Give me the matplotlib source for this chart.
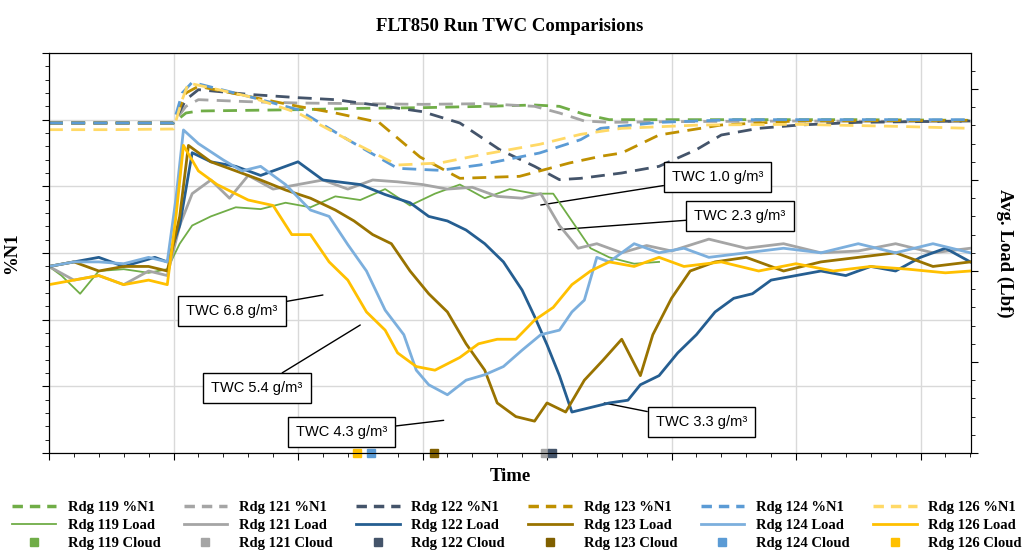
import matplotlib
matplotlib.use("Agg")
import matplotlib.pyplot as plt
from matplotlib.ticker import MultipleLocator, NullFormatter
from matplotlib.lines import Line2D

# ---- %N1 (dashed), left axis units ----
n1_119_t = [0, 0.5, 1.0, 1.1, 1.2, 1.6, 2.0, 2.5, 3.0, 3.5, 3.9, 4.1, 4.3, 4.5, 4.8, 5.5, 6.5, 7.4]
n1_119_v = [4.95, 4.95, 4.95, 5.1, 5.13, 5.14, 5.15, 5.17, 5.18, 5.2, 5.22, 5.2, 5.08, 5.0, 5.0, 5.0, 5.0, 4.99]
n1_121_t = [0, 0.5, 1.0, 1.1, 1.2, 1.6, 2.0, 2.5, 3.0, 3.5, 3.9, 4.1, 4.3, 4.5, 5.0, 6.0, 7.4]
n1_121_v = [4.95, 4.95, 4.95, 5.2, 5.3, 5.27, 5.25, 5.24, 5.23, 5.24, 5.2, 5.1, 4.98, 4.96, 4.97, 4.98, 4.97]
n1_122_t = [0, 0.5, 1.0, 1.1, 1.2, 1.6, 2.0, 2.3, 2.7, 3.0, 3.3, 3.62, 3.9, 4.1, 4.27, 4.6, 4.9, 5.2, 5.4, 5.7, 6.03, 6.5, 7.4]
n1_122_v = [4.95, 4.95, 4.95, 5.3, 5.45, 5.38, 5.33, 5.3, 5.2, 5.12, 4.95, 4.55, 4.3, 4.1, 4.12, 4.2, 4.3, 4.55, 4.77, 4.87, 4.92, 4.96, 4.98]
n1_123_t = [0, 0.5, 1.0, 1.1, 1.2, 1.6, 2.0, 2.3, 2.65, 2.98, 3.3, 3.78, 4.18, 4.43, 4.6, 4.9, 5.4, 6.0, 7.4]
n1_123_v = [4.95, 4.95, 4.95, 5.4, 5.5, 5.35, 5.2, 5.1, 4.96, 4.44, 4.12, 4.15, 4.35, 4.45, 4.5, 4.77, 4.92, 4.98, 4.99]
n1_124_t = [0, 0.5, 1.0, 1.07, 1.15, 1.6, 2.0, 2.4, 2.8, 3.14, 3.46, 3.94, 4.27, 4.43, 4.9, 5.5, 6.5, 7.4]
n1_124_v = [4.95, 4.95, 4.95, 5.4, 5.56, 5.35, 5.15, 4.7, 4.27, 4.24, 4.32, 4.5, 4.7, 4.87, 4.96, 5.0, 5.0, 5.0]
n1_126_t = [0, 0.5, 1.0, 1.07, 1.12, 1.6, 2.0, 2.4, 2.8, 3.14, 3.46, 3.94, 4.27, 4.6, 5.23, 6.0, 6.8, 7.4]
n1_126_v = [4.85, 4.85, 4.86, 5.3, 5.55, 5.35, 5.1, 4.7, 4.32, 4.35, 4.47, 4.63, 4.78, 4.87, 4.92, 4.93, 4.9, 4.87]

# ---- Load (solid), right axis units ----
ld_119_t = [0, 0.1, 0.25, 0.4, 0.6, 0.8, 0.95, 1.05, 1.15, 1.3, 1.5, 1.7, 1.9, 2.1, 2.3, 2.5, 2.7, 2.9, 3.1, 3.3, 3.5, 3.7, 3.9, 4.05, 4.2, 4.35, 4.5, 4.7, 4.9]
ld_119_v = [2.05, 1.95, 1.75, 2.0, 2.02, 1.98, 2.02, 2.3, 2.5, 2.6, 2.7, 2.68, 2.75, 2.7, 2.82, 2.78, 2.9, 2.72, 2.85, 2.95, 2.8, 2.9, 2.85, 2.85, 2.55, 2.25, 2.15, 2.08, 2.1]
ld_121_t = [0, 0.2, 0.4, 0.6, 0.8, 0.95, 1.05, 1.15, 1.3, 1.45, 1.6, 1.8, 2.0, 2.2, 2.4, 2.6, 2.8, 3.0, 3.2, 3.4, 3.6, 3.8, 3.95, 4.1, 4.25, 4.4, 4.6, 4.8, 5.0, 5.3, 5.6, 5.9, 6.2, 6.5, 6.8, 7.1, 7.4]
ld_121_v = [2.05, 1.9, 1.95, 1.85, 2.0, 1.95, 2.5, 2.85, 3.0, 2.8, 3.05, 2.9, 2.95, 3.0, 2.9, 3.0, 2.98, 2.95, 2.9, 2.92, 2.82, 2.8, 2.85, 2.5, 2.25, 2.3, 2.2, 2.28, 2.22, 2.35, 2.25, 2.3, 2.2, 2.22, 2.3, 2.2, 2.25]
ld_122_t = [0, 0.2, 0.4, 0.6, 0.85, 0.95, 1.05, 1.15, 1.3, 1.5, 1.7, 2.0, 2.2, 2.5, 2.7, 2.9, 3.05, 3.2, 3.35, 3.5, 3.65, 3.8, 3.9, 4.0, 4.1, 4.2, 4.35, 4.5, 4.65, 4.75, 4.9, 5.05, 5.2, 5.35, 5.5, 5.65, 5.8, 6.0, 6.2, 6.4, 6.6, 6.8, 7.0, 7.2, 7.4]
ld_122_v = [2.05, 2.1, 2.15, 2.05, 2.15, 2.1, 2.5, 3.3, 3.2, 3.15, 3.05, 3.2, 3.0, 2.95, 2.84, 2.75, 2.6, 2.55, 2.45, 2.3, 2.1, 1.79, 1.5, 1.19, 0.85, 0.45, 0.5, 0.55, 0.58, 0.75, 0.85, 1.1, 1.3, 1.55, 1.7, 1.75, 1.9, 1.95, 2.0, 1.95, 2.05, 2.0, 2.15, 2.25, 2.1]
ld_123_t = [0, 0.2, 0.4, 0.6, 0.8, 0.95, 1.05, 1.12, 1.3, 1.5, 1.7, 1.9, 2.1, 2.3, 2.45, 2.6, 2.75, 2.9, 3.05, 3.2, 3.35, 3.5, 3.6, 3.75, 3.9, 4.0, 4.15, 4.3, 4.45, 4.6, 4.75, 4.85, 5.0, 5.15, 5.35, 5.6, 5.9, 6.2, 6.5, 6.8, 7.1, 7.4]
ld_123_v = [2.05, 2.1, 2.0, 2.05, 2.05, 2.0, 2.6, 3.38, 3.2, 3.1, 3.0, 2.89, 2.8, 2.67, 2.55, 2.4, 2.3, 2.0, 1.75, 1.55, 1.2, 0.91, 0.55, 0.4, 0.35, 0.55, 0.45, 0.8, 1.02, 1.25, 0.85, 1.3, 1.7, 2.0, 2.1, 2.15, 2.0, 2.1, 2.15, 2.2, 2.05, 2.1]
ld_124_t = [0, 0.2, 0.4, 0.6, 0.8, 0.95, 1.02, 1.08, 1.2, 1.4, 1.55, 1.7, 1.9, 2.1, 2.25, 2.4, 2.55, 2.7, 2.85, 2.95, 3.05, 3.2, 3.35, 3.5, 3.65, 3.8, 3.95, 4.1, 4.2, 4.3, 4.4, 4.5, 4.7, 4.9, 5.1, 5.3, 5.6, 5.9, 6.2, 6.5, 6.8, 7.1, 7.4]
ld_124_v = [2.05, 2.1, 2.1, 2.08, 2.15, 2.1, 2.8, 3.55, 3.4, 3.22, 3.1, 3.15, 2.95, 2.67, 2.6, 2.29, 2.0, 1.57, 1.3, 0.91, 0.75, 0.64, 0.8, 0.86, 0.95, 1.13, 1.3, 1.35, 1.55, 1.68, 2.15, 2.1, 2.3, 2.2, 2.25, 2.15, 2.2, 2.25, 2.2, 2.3, 2.2, 2.3, 2.2]
ld_126_t = [0, 0.2, 0.4, 0.6, 0.8, 0.95, 1.02, 1.08, 1.2, 1.35, 1.6, 1.8, 1.95, 2.1, 2.25, 2.4, 2.55, 2.7, 2.8, 2.95, 3.1, 3.3, 3.45, 3.6, 3.75, 3.9, 4.05, 4.2, 4.35, 4.5, 4.7, 4.9, 5.1, 5.4, 5.7, 6.0, 6.3, 6.6, 6.9, 7.2, 7.4]
ld_126_v = [1.85, 1.9, 1.95, 1.85, 1.9, 1.85, 2.6, 3.38, 3.1, 2.95, 2.78, 2.72, 2.4, 2.4, 2.1, 1.9, 1.55, 1.35, 1.1, 0.95, 0.91, 1.05, 1.2, 1.25, 1.25, 1.46, 1.6, 1.85, 2.0, 2.1, 2.05, 2.15, 2.05, 2.1, 2.0, 2.08, 2.0, 2.05, 2.02, 1.98, 2.0]

# ---- cloud start times ----
cloud_t = {"119": None, "121": 3.98, "122": 4.04, "123": 3.09, "124": 2.59, "126": 2.47}

runs = ["119", "121", "122", "123", "124", "126"]
n1_data = {"119": (n1_119_t, n1_119_v), "121": (n1_121_t, n1_121_v), "122": (n1_122_t, n1_122_v),
           "123": (n1_123_t, n1_123_v), "124": (n1_124_t, n1_124_v), "126": (n1_126_t, n1_126_v)}
ld_data = {"119": (ld_119_t, ld_119_v), "121": (ld_121_t, ld_121_v), "122": (ld_122_t, ld_122_v),
           "123": (ld_123_t, ld_123_v), "124": (ld_124_t, ld_124_v), "126": (ld_126_t, ld_126_v)}
n1_col = {"119": "#70AD47", "121": "#A5A5A5", "122": "#44546A", "123": "#BF9000", "124": "#5B9BD5", "126": "#FFD966"}
ld_col = {"119": "#70AD47", "121": "#A5A5A5", "122": "#255E91", "123": "#997300", "124": "#7CAFDD", "126": "#FFC000"}
ld_lw = {"119": 1.3, "121": 2, "122": 2, "123": 2, "124": 2, "126": 2}
cl_col = {"119": "#70AD47", "121": "#A5A5A5", "122": "#44546A", "123": "#806000", "124": "#5B9BD5", "126": "#FFC000"}
dash = (0, (5, 3))

fig = plt.figure(figsize=(10.34, 5.58), dpi=100)
ax = fig.add_axes([49 / 1034, 105 / 558, 922 / 1034, 400 / 558])
ax2 = ax.twinx()

for r in runs:
    t, v = n1_data[r]
    ax.plot(t, v, ls=dash, lw=2, color=n1_col[r])
for r in runs:
    t, v = ld_data[r]
    ax2.plot(t, v, lw=ld_lw[r], color=ld_col[r])
for r in runs:
    if cloud_t[r] is not None:
        ax.plot([cloud_t[r]], [0], "s", ms=6, color=cl_col[r], clip_on=False, zorder=5)

ax.set_xlim(0, 922 / 124.5)
ax.set_ylim(0, 6)
ax2.set_ylim(0, 400 / 91)
ax.xaxis.set_major_locator(MultipleLocator(1))
ax.xaxis.set_minor_locator(MultipleLocator(0.2))
ax.yaxis.set_major_locator(MultipleLocator(1))
ax.yaxis.set_minor_locator(MultipleLocator(0.2))
ax2.yaxis.set_major_locator(MultipleLocator(1))
ax2.yaxis.set_minor_locator(MultipleLocator(0.2))
for a in (ax, ax2):
    a.xaxis.set_major_formatter(NullFormatter())
    a.yaxis.set_major_formatter(NullFormatter())
    a.tick_params(which="major", length=5, direction="out")
    a.tick_params(which="minor", length=3, direction="out")
ax.grid(True, which="major", color="#D9D9D9", lw=1)
ax.set_axisbelow(True)

serif = "Liberation Serif"
ax.set_title("FLT850 Run TWC Comparisions", fontsize=13.5, fontweight="bold", family=serif, pad=16)
ax.set_xlabel("Time", fontsize=13.5, fontweight="bold", family=serif, labelpad=2)
ax.set_ylabel("%N1", fontsize=13.5, fontweight="bold", family=serif, labelpad=12)
ax2.set_ylabel("Avg. Load (Lbf)", fontsize=13.5, fontweight="bold", family=serif, rotation=270, labelpad=22)

# annotations: (text, box centre, line end) in left-axis data units
notes = [("TWC 6.8 g/m³", (1.47, 2.13), (2.2, 2.37)),
         ("TWC 5.4 g/m³", (1.67, 0.97), (2.5, 1.92)),
         ("TWC 4.3 g/m³", (2.35, 0.31), (3.17, 0.49)),
         ("TWC 1.0 g/m³", (5.37, 4.14), (3.95, 3.72)),
         ("TWC 2.3 g/m³", (5.55, 3.55), (4.09, 3.35)),
         ("TWC 3.3 g/m³", (5.24, 0.46), (4.46, 0.75))]
for txt, xy_box, xy_pt in notes:
    ax.annotate(txt, xy=xy_pt, xytext=xy_box, ha="center", va="center", fontsize=10.5,
                family="Liberation Sans",
                bbox=dict(boxstyle="square,pad=0.55", fc="white", ec="black", lw=1),
                arrowprops=dict(arrowstyle="-", color="black", lw=1, shrinkA=0, shrinkB=0),
                zorder=6)

handles, labels = [], []
for r in runs:
    handles += [Line2D([], [], ls=(0, (3, 2)), lw=2.5, color=n1_col[r]),
                Line2D([], [], lw=ld_lw[r], color=ld_col[r]),
                Line2D([], [], ls="none", marker="s", ms=6, color=cl_col[r])]
    labels += [f"Rdg {r} %N1", f"Rdg {r} Load", f"Rdg {r} Cloud"]
fig.legend(handles, labels, ncol=6, loc="lower center", bbox_to_anchor=(0.5, -0.01),
           frameon=False, prop=dict(family=serif, weight="bold", size=10.5),
           handlelength=3, columnspacing=1.6, labelspacing=0.35, handletextpad=0.8)

fig.savefig("out.png", dpi=100)
